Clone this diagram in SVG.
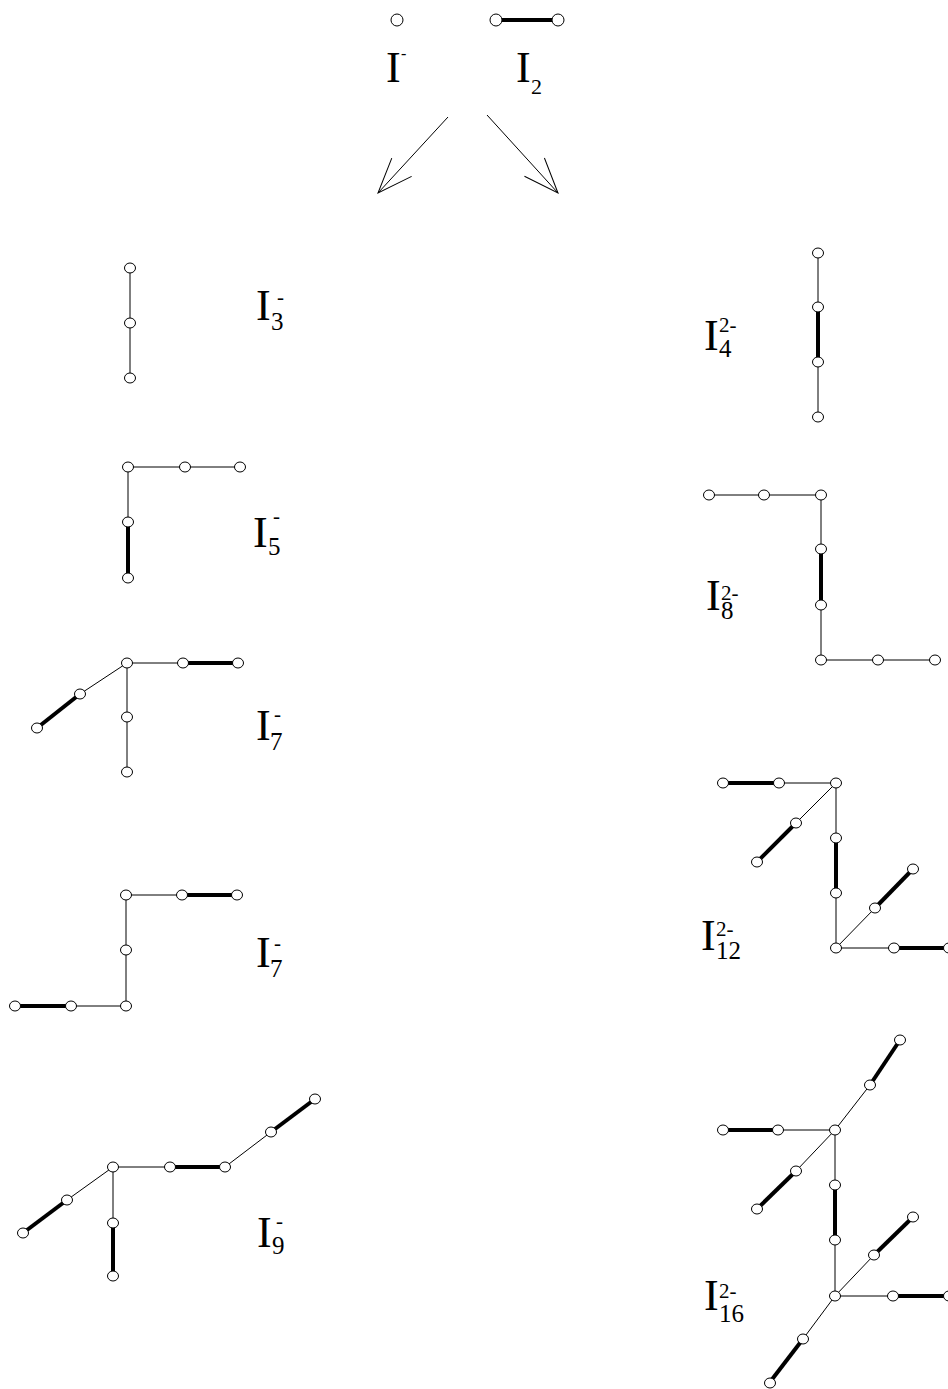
<svg xmlns="http://www.w3.org/2000/svg" width="948" height="1389" viewBox="0 0 948 1389">
<style>
.t{stroke:#000;stroke-width:1;fill:none}
.k{stroke:#000;stroke-width:4;fill:none}
.a{fill:#fff;stroke:#000;stroke-width:1}
.m{font-family:"Liberation Serif","Times New Roman",serif;font-size:44px;fill:#000}
.s{font-family:"Liberation Serif","Times New Roman",serif;font-size:25px;fill:#000}
.p{font-family:"Liberation Serif","Times New Roman",serif;font-size:21px;fill:#000}
.ar{stroke:#000;stroke-width:1;fill:none}
</style>
<defs>
<marker id="vh" markerUnits="userSpaceOnUse" markerWidth="80" markerHeight="80" refX="0" refY="0" viewBox="-40 -40 80 80" orient="auto" overflow="visible">
<path d="M-35,-13.5 L0,0 L-35,13.5" stroke="#000" stroke-width="1" fill="none"/>
</marker>
</defs>

<g id="connectors">
<line class="ar" x1="448" y1="117" x2="378" y2="193" marker-end="url(#vh)"/>
<line class="ar" x1="487" y1="115" x2="558" y2="193" marker-end="url(#vh)"/>
</g>

<g id="n-Iminus">
<ellipse class="a" cx="397" cy="20" rx="6" ry="6"/>
<text class="m" x="386" y="82">I</text>
<text class="p" x="401" y="59" style="font-size:16px">-</text>
</g>

<g id="n-I2">
<line class="k" x1="496" y1="20" x2="558" y2="20"/>
<ellipse class="a" cx="496" cy="20" rx="6" ry="6"/>
<ellipse class="a" cx="558" cy="20" rx="6" ry="6"/>
<text class="m" x="516" y="82">I</text>
<text class="s" x="531" y="94" style="font-size:22px">2</text>
</g>

<g id="n-I3">
<line class="t" x1="130" y1="268" x2="130" y2="378"/>
<ellipse class="a" cx="130" cy="268" rx="5.5" ry="5"/>
<ellipse class="a" cx="130" cy="323" rx="5.5" ry="5"/>
<ellipse class="a" cx="130" cy="378" rx="5.5" ry="5"/>
<text class="m" x="256" y="320">I</text>
<text class="s" x="271" y="330">3</text>
<text class="p" x="277" y="304">-</text>
</g>

<g id="n-I4">
<line class="t" x1="818" y1="253" x2="818" y2="417"/>
<line class="k" x1="818" y1="307" x2="818" y2="362"/>
<ellipse class="a" cx="818" cy="253" rx="5.5" ry="5"/>
<ellipse class="a" cx="818" cy="307" rx="5.5" ry="5"/>
<ellipse class="a" cx="818" cy="362" rx="5.5" ry="5"/>
<ellipse class="a" cx="818" cy="417" rx="5.5" ry="5"/>
<text class="m" x="704" y="350">I</text>
<text class="p" x="719" y="332">2-</text>
<text class="s" x="719" y="357">4</text>
</g>

<g id="n-I5">
<polyline class="t" points="240,467 128,467 128,522"/>
<line class="k" x1="128" y1="522" x2="128" y2="578"/>
<ellipse class="a" cx="128" cy="467" rx="5.5" ry="5"/>
<ellipse class="a" cx="185" cy="467" rx="5.5" ry="5"/>
<ellipse class="a" cx="240" cy="467" rx="5.5" ry="5"/>
<ellipse class="a" cx="128" cy="522" rx="5.5" ry="5"/>
<ellipse class="a" cx="128" cy="578" rx="5.5" ry="5"/>
<text class="m" x="253" y="547">I</text>
<text class="s" x="268" y="555">5</text>
<text class="p" x="273" y="523">-</text>
</g>

<g id="n-I8">
<polyline class="t" points="709,495 821,495 821,660 935,660"/>
<line class="k" x1="821" y1="549" x2="821" y2="605"/>
<ellipse class="a" cx="709" cy="495" rx="5.5" ry="5"/>
<ellipse class="a" cx="764" cy="495" rx="5.5" ry="5"/>
<ellipse class="a" cx="821" cy="495" rx="5.5" ry="5"/>
<ellipse class="a" cx="821" cy="549" rx="5.5" ry="5"/>
<ellipse class="a" cx="821" cy="605" rx="5.5" ry="5"/>
<ellipse class="a" cx="821" cy="660" rx="5.5" ry="5"/>
<ellipse class="a" cx="878" cy="660" rx="5.5" ry="5"/>
<ellipse class="a" cx="935" cy="660" rx="5.5" ry="5"/>
<text class="m" x="706" y="610">I</text>
<text class="p" x="721" y="600">2-</text>
<text class="s" x="721" y="619">8</text>
</g>

<g id="n-I7a">
<line class="t" x1="127" y1="663" x2="183" y2="663"/>
<line class="k" x1="183" y1="663" x2="238" y2="663"/>
<line class="t" x1="127" y1="663" x2="80" y2="694"/>
<line class="k" x1="80" y1="694" x2="37" y2="728"/>
<line class="t" x1="127" y1="663" x2="127" y2="772"/>
<ellipse class="a" cx="127" cy="663" rx="5.5" ry="5"/>
<ellipse class="a" cx="183" cy="663" rx="5.5" ry="5"/>
<ellipse class="a" cx="238" cy="663" rx="5.5" ry="5"/>
<ellipse class="a" cx="80" cy="694" rx="5.5" ry="5"/>
<ellipse class="a" cx="37" cy="728" rx="5.5" ry="5"/>
<ellipse class="a" cx="127" cy="717" rx="5.5" ry="5"/>
<ellipse class="a" cx="127" cy="772" rx="5.5" ry="5"/>
<text class="m" x="256" y="740">I</text>
<text class="s" x="270" y="750">7</text>
<text class="p" x="274" y="721">-</text>
</g>

<g id="n-I12">
<line class="k" x1="723" y1="783" x2="779" y2="783"/>
<line class="t" x1="779" y1="783" x2="836" y2="783"/>
<line class="t" x1="836" y1="783" x2="796" y2="823"/>
<line class="k" x1="796" y1="823" x2="757" y2="862"/>
<line class="t" x1="836" y1="783" x2="836" y2="948"/>
<line class="k" x1="836" y1="838" x2="836" y2="893"/>
<line class="t" x1="836" y1="948" x2="894" y2="948"/>
<line class="k" x1="894" y1="948" x2="948" y2="948"/>
<line class="t" x1="836" y1="948" x2="875" y2="908"/>
<line class="k" x1="875" y1="908" x2="913" y2="869"/>
<ellipse class="a" cx="723" cy="783" rx="5.5" ry="5"/>
<ellipse class="a" cx="779" cy="783" rx="5.5" ry="5"/>
<ellipse class="a" cx="836" cy="783" rx="5.5" ry="5"/>
<ellipse class="a" cx="796" cy="823" rx="5.5" ry="5"/>
<ellipse class="a" cx="757" cy="862" rx="5.5" ry="5"/>
<ellipse class="a" cx="836" cy="838" rx="5.5" ry="5"/>
<ellipse class="a" cx="836" cy="893" rx="5.5" ry="5"/>
<ellipse class="a" cx="836" cy="948" rx="5.5" ry="5"/>
<ellipse class="a" cx="894" cy="948" rx="5.5" ry="5"/>
<ellipse class="a" cx="949" cy="948" rx="5.5" ry="5"/>
<ellipse class="a" cx="875" cy="908" rx="5.5" ry="5"/>
<ellipse class="a" cx="913" cy="869" rx="5.5" ry="5"/>
<text class="m" x="701" y="950">I</text>
<text class="p" x="716" y="936">2-</text>
<text class="s" x="716" y="959">12</text>
</g>

<g id="n-I7b">
<line class="t" x1="126" y1="895" x2="182" y2="895"/>
<line class="k" x1="182" y1="895" x2="237" y2="895"/>
<line class="t" x1="126" y1="895" x2="126" y2="1006"/>
<line class="t" x1="126" y1="1006" x2="71" y2="1006"/>
<line class="k" x1="71" y1="1006" x2="15" y2="1006"/>
<ellipse class="a" cx="126" cy="895" rx="5.5" ry="5"/>
<ellipse class="a" cx="182" cy="895" rx="5.5" ry="5"/>
<ellipse class="a" cx="237" cy="895" rx="5.5" ry="5"/>
<ellipse class="a" cx="126" cy="950" rx="5.5" ry="5"/>
<ellipse class="a" cx="126" cy="1006" rx="5.5" ry="5"/>
<ellipse class="a" cx="71" cy="1006" rx="5.5" ry="5"/>
<ellipse class="a" cx="15" cy="1006" rx="5.5" ry="5"/>
<text class="m" x="256" y="967">I</text>
<text class="s" x="270" y="977">7</text>
<text class="p" x="274" y="950">-</text>
</g>

<g id="n-I9">
<line class="t" x1="113" y1="1167" x2="170" y2="1167"/>
<line class="k" x1="170" y1="1167" x2="225" y2="1167"/>
<line class="t" x1="225" y1="1167" x2="271" y2="1132"/>
<line class="k" x1="271" y1="1132" x2="315" y2="1099"/>
<line class="t" x1="113" y1="1167" x2="67" y2="1200"/>
<line class="k" x1="67" y1="1200" x2="23" y2="1233"/>
<line class="t" x1="113" y1="1167" x2="113" y2="1223"/>
<line class="k" x1="113" y1="1223" x2="113" y2="1276"/>
<ellipse class="a" cx="113" cy="1167" rx="5.5" ry="5"/>
<ellipse class="a" cx="170" cy="1167" rx="5.5" ry="5"/>
<ellipse class="a" cx="225" cy="1167" rx="5.5" ry="5"/>
<ellipse class="a" cx="271" cy="1132" rx="5.5" ry="5"/>
<ellipse class="a" cx="315" cy="1099" rx="5.5" ry="5"/>
<ellipse class="a" cx="67" cy="1200" rx="5.5" ry="5"/>
<ellipse class="a" cx="23" cy="1233" rx="5.5" ry="5"/>
<ellipse class="a" cx="113" cy="1223" rx="5.5" ry="5"/>
<ellipse class="a" cx="113" cy="1276" rx="5.5" ry="5"/>
<text class="m" x="257" y="1247">I</text>
<text class="s" x="272" y="1254">9</text>
<text class="p" x="276" y="1228">-</text>
</g>

<g id="n-I16">
<line class="k" x1="723" y1="1130" x2="778" y2="1130"/>
<line class="t" x1="778" y1="1130" x2="835" y2="1130"/>
<line class="t" x1="835" y1="1130" x2="870" y2="1085"/>
<line class="k" x1="870" y1="1085" x2="900" y2="1040"/>
<line class="t" x1="835" y1="1130" x2="796" y2="1171"/>
<line class="k" x1="796" y1="1171" x2="757" y2="1209"/>
<line class="t" x1="835" y1="1130" x2="835" y2="1296"/>
<line class="k" x1="835" y1="1185" x2="835" y2="1240"/>
<line class="t" x1="835" y1="1296" x2="874" y2="1255"/>
<line class="k" x1="874" y1="1255" x2="913" y2="1217"/>
<line class="t" x1="835" y1="1296" x2="893" y2="1296"/>
<line class="k" x1="893" y1="1296" x2="948" y2="1296"/>
<line class="t" x1="835" y1="1296" x2="803" y2="1339"/>
<line class="k" x1="803" y1="1339" x2="770" y2="1382"/>
<ellipse class="a" cx="723" cy="1130" rx="5.5" ry="5"/>
<ellipse class="a" cx="778" cy="1130" rx="5.5" ry="5"/>
<ellipse class="a" cx="835" cy="1130" rx="5.5" ry="5"/>
<ellipse class="a" cx="870" cy="1085" rx="5.5" ry="5"/>
<ellipse class="a" cx="900" cy="1040" rx="5.5" ry="5"/>
<ellipse class="a" cx="796" cy="1171" rx="5.5" ry="5"/>
<ellipse class="a" cx="757" cy="1209" rx="5.5" ry="5"/>
<ellipse class="a" cx="835" cy="1185" rx="5.5" ry="5"/>
<ellipse class="a" cx="835" cy="1240" rx="5.5" ry="5"/>
<ellipse class="a" cx="835" cy="1296" rx="5.5" ry="5"/>
<ellipse class="a" cx="874" cy="1255" rx="5.5" ry="5"/>
<ellipse class="a" cx="913" cy="1217" rx="5.5" ry="5"/>
<ellipse class="a" cx="893" cy="1296" rx="5.5" ry="5"/>
<ellipse class="a" cx="949" cy="1296" rx="5.5" ry="5"/>
<ellipse class="a" cx="803" cy="1339" rx="5.5" ry="5"/>
<ellipse class="a" cx="770" cy="1383" rx="5.5" ry="5"/>
<text class="m" x="704" y="1310">I</text>
<text class="p" x="719" y="1298">2-</text>
<text class="s" x="719" y="1322">16</text>
</g>
</svg>
